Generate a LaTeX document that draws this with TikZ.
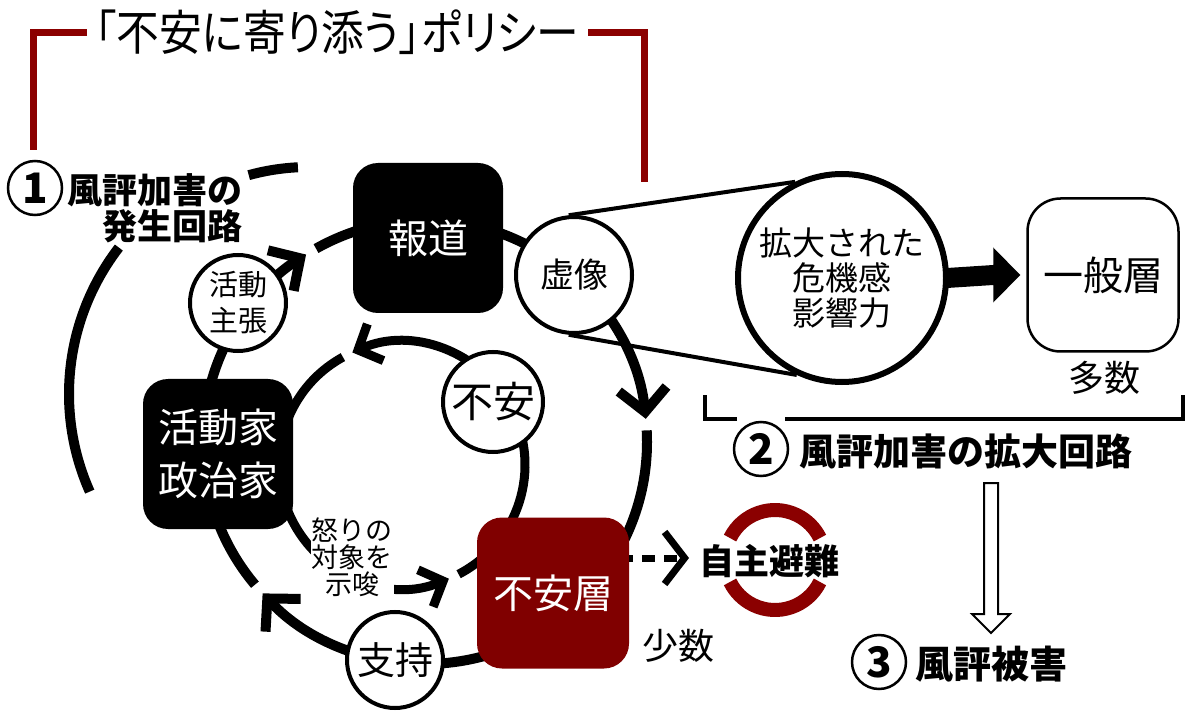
\documentclass[tikz,border=0pt]{standalone}
\usepackage{fontspec}
\usepackage{graphicx}
\setmainfont{Noto Sans CJK JP}
\newfontfamily\titlefont{Noto Sans CJK JP}[RawFeature=+palt]
\usetikzlibrary{arrows.meta,calc}
\definecolor{dred}{RGB}{128,0,0}
\definecolor{bred}{RGB}{139,0,0}
\newcommand\fsz[2]{\fontsize{#1}{#2}\selectfont}
\begin{document}
\begin{tikzpicture}[x=1pt,y=-1pt,
 oloop/.style={line width=10pt},
 iloop/.style={line width=9pt},
 ochev/.style={-{Straight Barb[length=23pt,width=48pt]}},
 ichev/.style={-{Straight Barb[length=19pt,width=40pt]}},
 darkbox/.style={rounded corners=25pt, minimum width=150pt, minimum height=150pt, inner sep=0pt, text=white, align=center},
 wcirc/.style={circle, draw=black, fill=white, line width=4pt, inner sep=0pt, align=center},
 numc/.style={circle, draw=black, fill=white, line width=2.5pt, minimum size=54pt, inner sep=0pt, font=\fsz{42}{42}\bfseries},
 lbl/.style={inner sep=0pt, align=center},
]
\fill[white] (0,0) rectangle (1200,711);
\useasboundingbox (0,0) rectangle (1200,711);

% centres of the loops
\coordinate (O) at (425,442);
\coordinate (I) at (402,465);
\coordinate (L) at (309,394);
\coordinate (R) at (775,560);

% outermost arc of loop 1
\draw[oloop] ($(L)+(254.6:227)$) arc[start angle=254.6, end angle=267.2, radius=227];
\draw[oloop] ($(L)+(156:240)$) arc[start angle=156, end angle=217.6, radius=240];

% outer loop
\draw[oloop, ochev] ($(O)+(140:222)$) arc[start angle=140, end angle=237.6, radius=222];
\draw[oloop, ochev] ($(O)+(240.6:222)$) arc[start angle=240.6, end angle=354, radius=222];
\draw[oloop, ochev] ($(O)+(357:222)$) arc[start angle=357, end angle=497, radius=222];

% inner loop
\draw[iloop, ichev] ($(I)+(241.3:123)$) arc[start angle=241.3, end angle=67.6, radius=123];
\draw[iloop, ichev] ($(I)+(62.6:123)$) arc[start angle=62.6, end angle=-113.8, radius=123];

% nodes
\node[darkbox, fill=black, font=\fsz{40}{44}] (hodo) at (428,238) {報道};
\node[darkbox, fill=black, font=\fsz{40}{53}] (katsu) at (218,454) {活動家\\政治家};
\node[darkbox, fill=dred, minimum width=152pt, minimum height=151pt, font=\fsz{40}{44}] (fuanso) at (553,593) {不安層};
\node[wcirc, minimum size=116pt, font=\fsz{34}{36}] (kyozo) at (574,275) {虚像};
\node[wcirc, minimum size=96pt, font=\fsz{29}{36}] (shucho) at (238,303) {活動\\主張};
\node[wcirc, minimum size=100pt, font=\fsz{42}{44}] (fuan) at (493,402) {不安};
\node[wcirc, minimum size=96pt, font=\fsz{38}{40}] (shiji) at (395,660) {支持};
\node[wcirc, line width=6pt, minimum size=208pt, font=\fsz{33}{35}] (kakudai) at (842,278) {拡大された\\危機感\\影響力};
\node[draw=black, fill=white, line width=2.5pt, rounded corners=33pt, minimum width=151pt, minimum height=153pt, inner sep=0pt, font=\fsz{40}{44}] (ippan) at (1103,275) {一般層};
\node[lbl, font=\fsz{36}{40}] (tasu) at (1104,378) {多数};
\node[lbl, fill=white, inner sep=1pt, font=\fsz{27}{27}] (ikari) at (352,557) {怒りの\\対象を\\示唆};
\node[lbl, font=\fsz{36}{40}] (shosu) at (678,646) {少数};

% cone from 虚像 to the enlarged circle
\draw[line width=4pt] (kyozo.95) -- (kakudai.116);
\draw[line width=4pt] (kyozo.265) -- (kakudai.245);

% thick block arrow
\coordinate (ba) at (kakudai.east);
\coordinate (bt) at ($(ippan.west)+(-6,0)$);
\fill ($(ba)+(-2,-10)$) -- ($(bt)+(-27,-10)$) -- ($(bt)+(-27,-27.5)$) -- (bt) -- ($(bt)+(-27,27.5)$) -- ($(bt)+(-27,10)$) -- ($(ba)+(-2,10)$) -- cycle;

% ring round 自主避難
\draw[bred, line width=14pt] ($(R)+(206:50)$) arc[start angle=206, end angle=334, radius=50];
\draw[bred, line width=14pt] ($(R)+(26:50)$) arc[start angle=26, end angle=154, radius=50];
\node[lbl, font=\fsz{35}{38}\bfseries] (jishu) at (769,561) {自主避難};

% dashed arrow 不安層 -> 自主避難
\coordinate (dA) at (629,558);
\coordinate (dB) at (689,558);
\draw[line width=7pt, dash pattern=on 13pt off 9pt, dash phase=9pt, -{Straight Barb[length=20pt,width=52pt]}] (dA) -- (dB);

% title and red bracket
\node[lbl] (title) at (337,32) {\scalebox{0.89}[1]{\titlefont\fsz{48}{50}「不安に寄り添う」ポリシー}};
\draw[bred, line width=7pt] (87,33) -- (33,33) -- (33,150);
\draw[bred, line width=7pt] (588,33) -- (644,33) -- (644,182);

% (1)
\node[numc] (n1) at (35,188) {1};
\node[lbl, align=right, anchor=east, font=\fsz{35}{36}\bfseries] (t1) at (243,208) {風評加害の\\発生回路};

% (2) bracket and label
\draw[line width=4pt] (737,419) -- (705,419) -- (705,395);
\draw[line width=4pt] (785,419) -- (1183,419) -- (1183,395);
\node[numc] (n2) at (761,449) {2};
\node[lbl, anchor=west, font=\fsz{37}{40}\bfseries] (t2) at (799,451) {風評加害の拡大回路};

% hollow arrow down
\coordinate (hs) at (991,483);
\coordinate (he) at (991,633);
\draw[line width=2pt, fill=white, line join=miter] ($(hs)+(-7,0)$) -- ($(he)+(-7,-19)$) -- ($(he)+(-19,-19)$) -- (he) -- ($(he)+(19,-19)$) -- ($(he)+(7,-19)$) -- ($(hs)+(7,0)$) -- cycle;

% (3)
\node[numc] (n3) at (879,662) {3};
\node[lbl, anchor=west, font=\fsz{38}{40}\bfseries] (t3) at (915,664) {風評被害};
\end{tikzpicture}
\end{document}
